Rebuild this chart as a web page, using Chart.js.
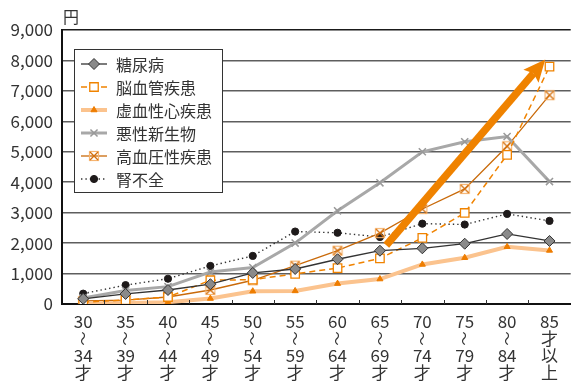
<!DOCTYPE html>
<html>
<head>
<meta charset="utf-8">
<script src="https://cdn.jsdelivr.net/npm/chart.js@4/dist/chart.umd.min.js"></script>
<style>
  html, body { margin: 0; padding: 0; background: #fff; overflow: hidden; }
</style>
</head>
<body>
<canvas id="cost" width="578" height="381"></canvas>
<script>
const ageGroups = [
  ["30", "〜", "34", "才"], ["35", "〜", "39", "才"], ["40", "〜", "44", "才"],
  ["45", "〜", "49", "才"], ["50", "〜", "54", "才"], ["55", "〜", "59", "才"],
  ["60", "〜", "64", "才"], ["65", "〜", "69", "才"], ["70", "〜", "74", "才"],
  ["75", "〜", "79", "才"], ["80", "〜", "84", "才"], ["85", "才", "以", "上"]
];
const diabetes     = [170, 330, 460, 650, 1020, 1150, 1470, 1750, 1830, 1980, 2300, 2070];
const cerebro      = [60, 130, 230, 780, 800, 990, 1180, 1500, 2170, 2990, 4900, 7800];
const ischemic     = [20, 30, 60, 180, 420, 430, 670, 820, 1300, 1520, 1880, 1760];
const cancer       = [200, 440, 570, 1050, 1200, 2000, 3060, 3980, 5000, 5330, 5500, 4020];
const hypertension = [100, 130, 230, 460, 780, 1260, 1750, 2330, 3120, 3780, 5180, 6860];
const renal        = [340, 620, 830, 1250, 1580, 2380, 2340, 2200, 2640, 2610, 2960, 2730];
const yTicks = [0, 1000, 2000, 3000, 4000, 5000, 6000, 7000, 8000, 9000];
// trend arrow, in [category index, value]
const trendFrom = [7.15, 1930];
const trendTo = [10.9, 8030];

const FONT = '"Noto Sans CJK JP", "Noto Sans", sans-serif';

// small box-with-cross marker used for 高血圧性疾患
function boxCross() {
  const c = document.createElement('canvas');
  c.width = 12; c.height = 12;
  const g = c.getContext('2d');
  g.strokeStyle = '#F6B470';
  g.lineWidth = 1.2;
  g.strokeRect(1.5, 1.5, 9, 9);
  g.strokeStyle = '#D36F0C';
  g.lineWidth = 1.3;
  g.beginPath();
  g.moveTo(2, 2); g.lineTo(10, 10);
  g.moveTo(10, 2); g.lineTo(2, 10);
  g.stroke();
  return c;
}

const series = [
  { label: '糖尿病', data: diabetes, borderColor: '#333333', borderWidth: 1.3,
    pointStyle: 'rectRot', pointRadius: 5.5, pointBackgroundColor: '#8a8a8a',
    pointBorderColor: '#333333', pointBorderWidth: 1 },
  { label: '脳血管疾患', data: cerebro, borderColor: '#F08300', borderWidth: 1.5,
    borderDash: [6, 4], pointStyle: 'rect', pointRadius: 6, pointBackgroundColor: '#ffffff',
    pointBorderColor: '#F08300', pointBorderWidth: 1.3 },
  { label: '虚血性心疾患', data: ischemic, borderColor: '#FBC38E', borderWidth: 4,
    pointStyle: 'triangle', pointRadius: 3.5, pointBackgroundColor: '#EE7D00',
    pointBorderColor: '#EE7D00', pointBorderWidth: 1 },
  { label: '悪性新生物', data: cancer, borderColor: '#A8A8A8', borderWidth: 3,
    pointStyle: 'crossRot', pointRadius: 5, pointBackgroundColor: '#999999',
    pointBorderColor: '#999999', pointBorderWidth: 1.5 },
  { label: '高血圧性疾患', data: hypertension, borderColor: '#C96A0A', borderWidth: 1.3,
    pointStyle: boxCross(), pointRadius: 6, pointBackgroundColor: '#C96A0A',
    pointBorderColor: '#C96A0A', pointBorderWidth: 1 },
  { label: '腎不全', data: renal, borderColor: '#333333', borderWidth: 1.4,
    borderDash: [1.4, 3], pointStyle: 'circle', pointRadius: 3.6, pointBackgroundColor: '#1e1a1a',
    pointBorderColor: '#1e1a1a', pointBorderWidth: 1 }
];

const extras = {
  id: 'extras',
  afterDraw(chart) {
    const ctx = chart.ctx;
    const xs = chart.scales.x, ys = chart.scales.y, area = chart.chartArea;
    ctx.save();

    // inward tick marks between the age groups
    const step = xs.getPixelForValue(1) - xs.getPixelForValue(0);
    ctx.strokeStyle = '#333';
    ctx.lineWidth = 1;
    for (let i = 1; i < ageGroups.length; i++) {
      const px = Math.round(xs.getPixelForValue(i) - step / 2) + 0.5;
      ctx.beginPath();
      ctx.moveTo(px, area.bottom);
      ctx.lineTo(px, area.bottom - 4);
      ctx.stroke();
    }

    // stacked age labels; the wave dash is turned upright like vertical text
    const lineOff = [18, 34.5, 51.5, 68.5];
    ctx.fillStyle = '#333';
    ctx.textAlign = 'center';
    ctx.textBaseline = 'middle';
    ageGroups.forEach((lines, i) => {
      const cx = xs.getPixelForValue(i);
      lines.forEach((t, j) => {
        const cy = area.bottom + lineOff[j];
        if (t === '〜') {
          ctx.save();
          ctx.translate(cx, cy);
          ctx.rotate(Math.PI / 2);
          ctx.font = '14px ' + FONT;
          ctx.fillText(t, 0, 0);
          ctx.restore();
        } else {
          ctx.font = '17px ' + FONT;
          ctx.fillText(t, cx, cy);
        }
      });
    });

    // trend arrow
    const x0 = xs.getPixelForValue(trendFrom[0]), y0 = ys.getPixelForValue(trendFrom[1]);
    const x1 = xs.getPixelForValue(trendTo[0]), y1 = ys.getPixelForValue(trendTo[1]);
    const ang = Math.atan2(y1 - y0, x1 - x0);
    const headLen = 22, headHalf = 10;
    const bx = x1 - Math.cos(ang) * (headLen - 4), by = y1 - Math.sin(ang) * (headLen - 4);
    ctx.strokeStyle = '#EF8200';
    ctx.fillStyle = '#EF8200';
    ctx.lineWidth = 7.5;
    ctx.lineCap = 'butt';
    ctx.beginPath();
    ctx.moveTo(x0, y0);
    ctx.lineTo(bx, by);
    ctx.stroke();
    ctx.beginPath();
    ctx.moveTo(x1, y1);
    ctx.lineTo(x1 - Math.cos(ang) * headLen - Math.sin(ang) * headHalf,
               y1 - Math.sin(ang) * headLen + Math.cos(ang) * headHalf);
    ctx.lineTo(bx, by);
    ctx.lineTo(x1 - Math.cos(ang) * headLen + Math.sin(ang) * headHalf,
               y1 - Math.sin(ang) * headLen - Math.cos(ang) * headHalf);
    ctx.closePath();
    ctx.fill();

    // legend box
    const lx = 74, ly = 49, lw = 148, lh = 143;
    ctx.fillStyle = '#fff';
    ctx.fillRect(lx, ly, lw, lh);
    ctx.strokeStyle = '#333';
    ctx.lineWidth = 1;
    ctx.strokeRect(lx + 0.5, ly + 0.5, lw, lh);
    ctx.font = '16px ' + FONT;
    ctx.textBaseline = 'middle';
    ctx.textAlign = 'left';
    series.forEach((s, i) => {
      const ry = 64 + i * 23;
      ctx.save();
      ctx.strokeStyle = s.borderColor;
      ctx.lineWidth = s.borderWidth;
      ctx.setLineDash(s.borderDash || []);
      ctx.beginPath();
      ctx.moveTo(81, ry);
      ctx.lineTo(107, ry);
      ctx.stroke();
      ctx.setLineDash([]);
      ctx.fillStyle = s.pointBackgroundColor;
      ctx.strokeStyle = s.pointBorderColor;
      ctx.lineWidth = s.pointBorderWidth;
      Chart.helpers.drawPoint(ctx, {
        pointStyle: s.pointStyle, radius: s.pointRadius, rotation: 0,
        borderWidth: s.pointBorderWidth
      }, 94, ry);
      ctx.restore();
      ctx.fillStyle = '#333';
      ctx.fillText(s.label, 116, ry + 1);
    });

    // unit
    ctx.fillStyle = '#333';
    ctx.font = '16px ' + FONT;
    ctx.fillText('円', 63, 17);
    ctx.restore();
  }
};

new Chart(document.getElementById('cost'), {
  type: 'line',
  data: {
    labels: ageGroups,
    datasets: series.map(s => Object.assign({ fill: false, tension: 0 }, s))
  },
  options: {
    responsive: false,
    animation: false,
    layout: { padding: { top: 30, left: 0, right: 0, bottom: 0 } },
    plugins: { legend: { display: false }, tooltip: { enabled: false } },
    scales: {
      x: {
        offset: true,
        grid: { display: false, drawTicks: false },
        border: { color: '#111', width: 2 },
        ticks: { display: false },
        afterFit(scale) { scale.height = 77; }
      },
      y: {
        min: 0, max: 9000,
        afterBuildTicks(scale) { scale.ticks = yTicks.map(v => ({ value: v })); },
        grid: {
          drawTicks: false, lineWidth: 1.5,
          color: c => (c.tick && c.tick.value === 9000) ? '#1a1a1a' : '#5e5e5e'
        },
        border: { color: '#111', width: 2 },
        ticks: {
          color: '#333', padding: 9,
          font: { family: FONT, size: 17 },
          callback: v => v.toLocaleString('en-US')
        },
        afterFit(scale) { scale.width = 62; }
      }
    }
  },
  plugins: [extras]
});
</script>
</body>
</html>
